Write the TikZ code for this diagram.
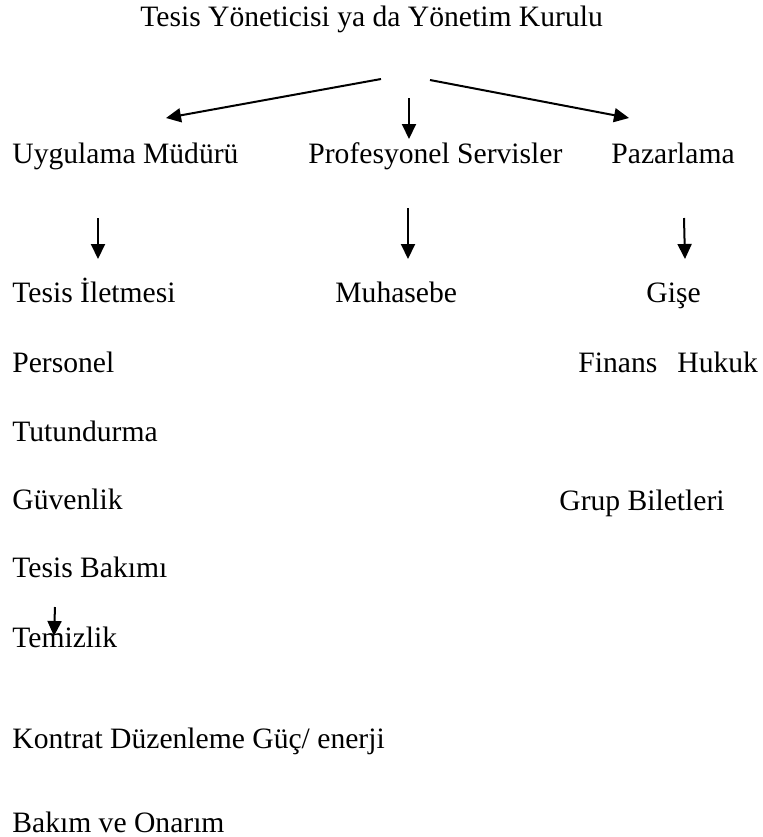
\documentclass[tikz,border=0pt]{standalone}
\usepackage{fontspec}
\setmainfont{Liberation Serif}
\usetikzlibrary{arrows.meta}
\begin{document}
\begin{tikzpicture}[x=0.5pt,y=-0.5pt,
  lbl/.style={anchor=base west,inner sep=0pt,font=\fontsize{14.8}{17}\selectfont},
  arr/.style={line width=1pt,-{Triangle[length=7.5pt,width=7pt]}}]
\useasboundingbox (0,0) rectangle (762,837);
% texts
\node[lbl] (top) at (140,26) {Tesis Yöneticisi ya da Yönetim Kurulu};
\node[lbl] (um) at (12,163) {Uygulama Müdürü};
\node[lbl] (ps) at (308,163) {Profesyonel Servisler};
\node[lbl] (pz) at (611,163) {Pazarlama};
\node[lbl] (ti) at (12,302) {Tesis İletmesi};
\node[lbl] (mh) at (335,302) {Muhasebe};
\node[lbl] (gs) at (646,302) {Gişe};
\node[lbl] (pr) at (12,372) {Personel};
\node[lbl] (fh) at (578,372) {Finans\hspace{0.68em}Hukuk};
\node[lbl] (tu) at (12,441) {Tutundurma};
\node[lbl] (gv) at (12,509) {Güvenlik};
\node[lbl] (gb) at (559,510) {Grup Biletleri};
\node[lbl] (tb) at (12,577) {Tesis Bakımı};
\node[lbl] (tz) at (12,647) {Temizlik};
\node[lbl] (kd) at (12,748) {Kontrat Düzenleme Güç/ enerji};
\node[lbl] (bo) at (12,832) {Bakım ve Onarım};
% arrow end points
\coordinate (a1s) at (381,79);  \coordinate (a1e) at (166,118);
\coordinate (a2s) at (409,98);  \coordinate (a2e) at (409,139);
\coordinate (a3s) at (430,80);  \coordinate (a3e) at (629,118);
\coordinate (b1s) at (98,218);  \coordinate (b1e) at (98,259);
\coordinate (b2s) at (408,208); \coordinate (b2e) at (408,259);
\coordinate (b3s) at (684,218); \coordinate (b3e) at (685,259);
\coordinate (c1s) at (55,607);  \coordinate (c1e) at (54,636);
% arrows
\draw[arr] (a1s) -- (a1e);
\draw[arr] (a2s) -- (a2e);
\draw[arr] (a3s) -- (a3e);
\draw[arr] (b1s) -- (b1e);
\draw[arr] (b2s) -- (b2e);
\draw[arr] (b3s) -- (b3e);
\draw[arr] (c1s) -- (c1e);
\end{tikzpicture}
\end{document}
